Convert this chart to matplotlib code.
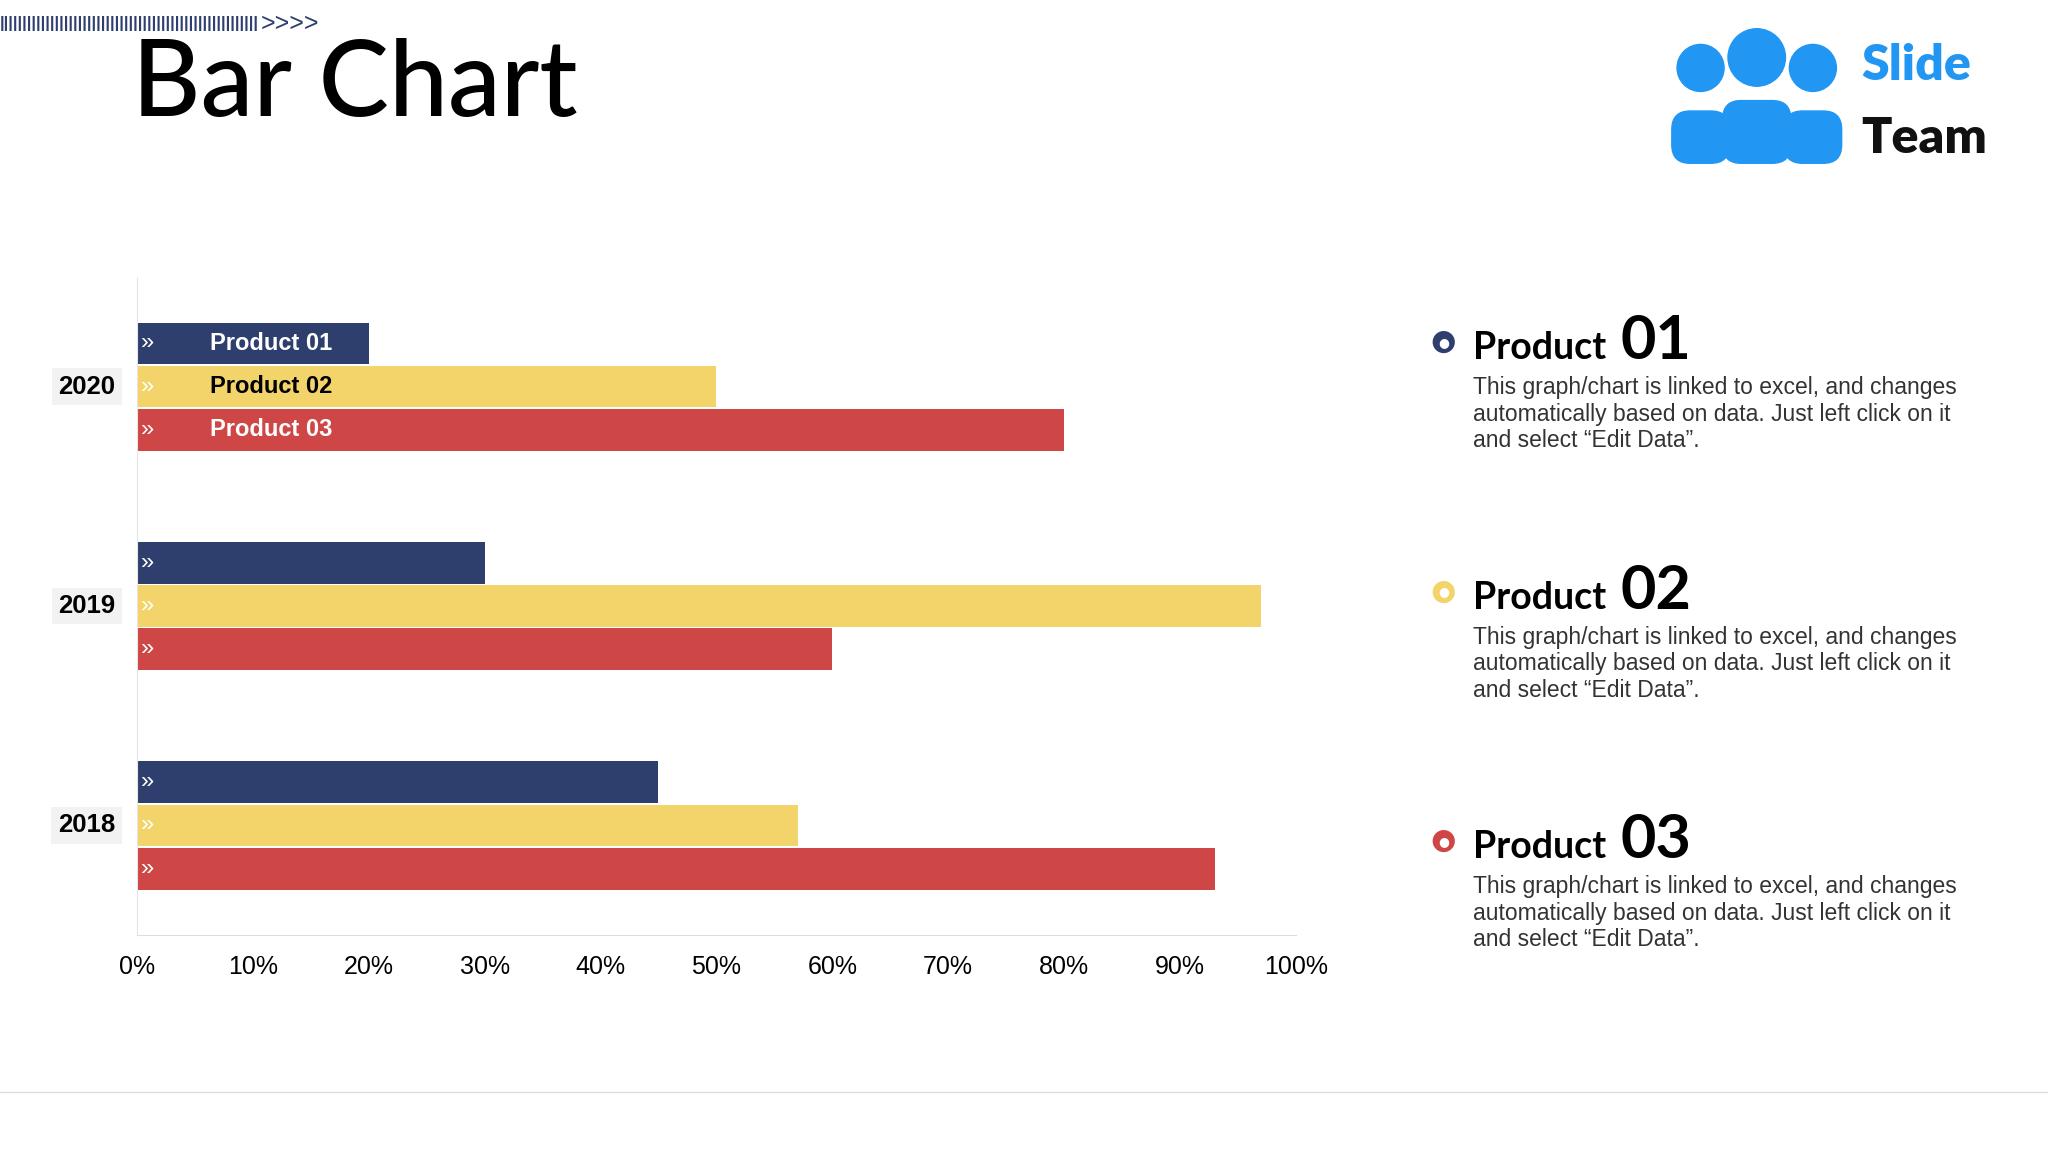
import matplotlib.pyplot as plt
from matplotlib.patches import Circle, FancyBboxPatch

plt.rcParams["font.family"] = "Liberation Sans"

years = ["2018", "2019", "2020"]
products = ["Product 01", "Product 02", "Product 03"]
values = {
    "Product 01": [45, 30, 20],
    "Product 02": [57, 97, 50],
    "Product 03": [93, 60, 80],
}
colors = ["#2E3F6E", "#F2D46A", "#CF4647"]
ticks = [0, 10, 20, 30, 40, 50, 60, 70, 80, 90, 100]
body = ("This graph/chart is linked to excel, and changes\n"
        "automatically based on data. Just left click on it\n"
        "and select \u201cEdit Data\u201d.")

W, H = 1568, 882
def fx(x): return x / W
def fy(y): return 1 - y / H

fig = plt.figure(figsize=(20.48, 11.52), dpi=100)
fig.patch.set_facecolor("white")

# title and decorations
fig.text(fx(101), fy(66), "Bar Chart", fontsize=76, va="center", ha="left",
         family="Lato", fontweight="medium", color="black")
fig.text(fx(0), fy(18), "|" * 56, fontsize=12, va="center", ha="left",
         color="#2E3F6E", fontweight="bold")
fig.text(fx(200), fy(18), ">>>>", fontsize=18, va="center", ha="left",
         color="#2E3F6E")
fig.add_artist(plt.Line2D([0, 1], [fy(836), fy(836)], color="#DDDDDD", lw=1))

# logo
lax = fig.add_axes([fx(1270), fy(130), fx(150), fy(20) - fy(130)])
lax.set_xlim(0, 150); lax.set_ylim(0, 110); lax.axis("off")
for cx, cy, r in [(32, 78, 18), (118, 78, 18), (75, 86, 22)]:
    lax.add_patch(Circle((cx, cy), r, color="#2196F3"))
for cx, w, h in [(32, 44, 50), (118, 44, 50), (75, 52, 58)]:
    lax.add_patch(FancyBboxPatch((cx - w / 2, 5), w, h - 10,
                                 boxstyle="round,pad=0,rounding_size=14", color="#2196F3"))
fig.text(fx(1425), fy(50), "Slide", fontsize=36, fontweight="heavy", color="#2196F3",
         va="center", family="Lato")
fig.text(fx(1425), fy(106), "Team", fontsize=36, fontweight="heavy", color="#111111",
         va="center", family="Lato")

# bar chart
ax = fig.add_axes([fx(105), fy(716), fx(992) - fx(105), fy(212) - fy(716)])
h = 0.19
offs = [0.197, 0, -0.197]
for i, p in enumerate(products):
    ys = [k + offs[i] for k in range(len(years))]
    ax.barh(ys, values[p], height=h, color=colors[i])
    for y in ys:
        ax.text(0.3, y, "\u00bb", color="white", fontsize=17, va="center", ha="left")
    ax.text(6.3, len(years) - 1 + offs[i], p, color="black" if i == 1 else "white",
            fontsize=17, fontweight="bold", va="center", ha="left")
ax.set_xlim(0, 100)
ax.set_ylim(-0.5, 2.5)
ax.set_xticks(ticks)
ax.set_xticklabels([f"{t}%" for t in ticks], fontsize=18)
ax.tick_params(axis="x", length=0, pad=14)
ax.set_yticks([])
for s in ["top", "right"]:
    ax.spines[s].set_visible(False)
ax.spines["left"].set_color("#E5E5E5")
ax.spines["bottom"].set_color("#DDDDDD")
for k, yr in enumerate(years):
    ax.text(-1.9, k, yr, fontsize=18.5, fontweight="bold", va="center", ha="right",
            bbox=dict(boxstyle="square,pad=0.25", fc="#F2F2F2", ec="none"))

# right descriptions
for i, (p, top) in enumerate(zip(products, [262, 453, 644])):
    fig.text(fx(1105), fy(top), "\u25CF", color=colors[i], fontsize=21,
             va="center", ha="center", family="DejaVu Sans")
    fig.text(fx(1105), fy(top), "\u25CF", color="white", fontsize=9,
             va="center", ha="center", family="DejaVu Sans")
    fig.text(fx(1128), fy(top + 13), "Product", fontsize=27, fontweight="bold",
             family="Lato", va="baseline", ha="left")
    fig.text(fx(1241), fy(top + 13), p.split()[1], fontsize=44, fontweight="bold",
             family="Lato", va="baseline", ha="left")
    fig.text(fx(1128), fy(top + 26), body, fontsize=16.5, va="top", ha="left",
             color="#333333", linespacing=1.2)

fig.savefig("out.png", dpi=100)
